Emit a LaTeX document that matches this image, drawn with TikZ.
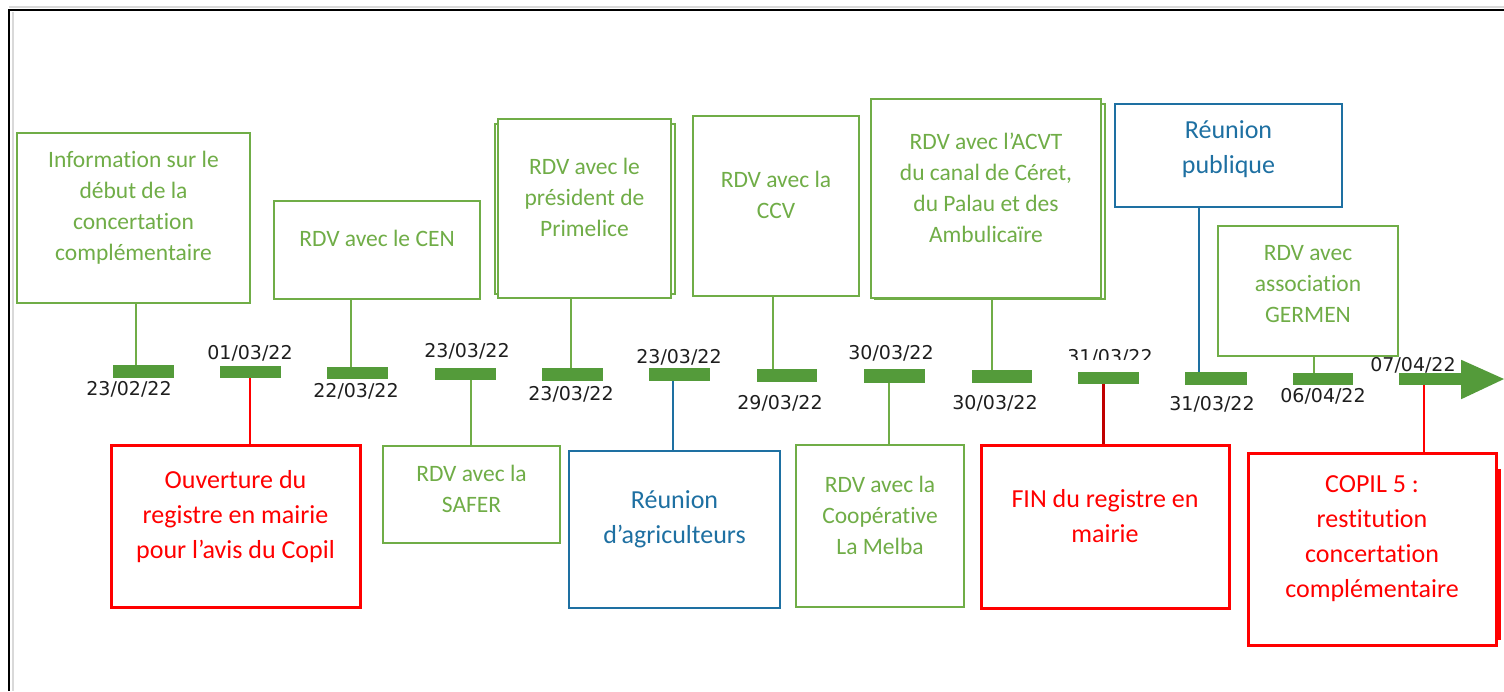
\documentclass[tikz,border=0pt]{standalone}
\usepackage{fontspec}
\setmainfont{Carlito}[Ligatures=CommonOff]
\newfontfamily\datefont{DejaVu Sans}
\usetikzlibrary{calc}
\definecolor{evgreen}{RGB}{112,173,71}
\definecolor{mkgreen}{RGB}{84,155,58}
\definecolor{evblue}{RGB}{30,112,162}
\definecolor{evred}{RGB}{255,0,0}
\definecolor{evdarkred}{RGB}{192,0,0}
\definecolor{datecol}{RGB}{30,30,30}
\tikzset{
  boxbase/.style={draw, fill=white, line width=2.5pt, inner sep=0pt, anchor=center},
  gbox/.style={boxbase, draw=evgreen},
  bbox/.style={boxbase, draw=evblue},
  rbox/.style={boxbase, draw=evred, line width=3pt},
  txtbase/.style={align=center, inner sep=0pt},
  gtxt/.style={txtbase, text=evgreen, font=\fontsize{23.5}{31}\selectfont},
  btxt/.style={txtbase, text=evblue, font=\fontsize{26}{35}\selectfont},
  rtxt/.style={txtbase, text=evred, font=\fontsize{26}{35}\selectfont},
  backbox/.style={line width=2.5pt},
  marker/.style={fill=mkgreen, draw=none, inner sep=0pt},
  datelbl/.style={font=\datefont\fontsize{19}{21}\selectfont, text=datecol, inner sep=0pt},
  gline/.style={draw=evgreen, line width=1.5pt},
  bline/.style={draw=evblue, line width=1.8pt},
  rline/.style={draw=evred, line width=1.3pt},
  drline/.style={draw=evdarkred, line width=3pt},
}
\newcommand\evbox[8]{%
  \node[#2box, minimum width={(#5-#3)*1pt}, minimum height={(#6-#4)*1pt}] (#1) at ({(#3+#5)/2},{(#4+#6)/2}) {};
  \node[#2txt] (#1t) at ({(#3+#5)/2},#7) {#8};
}
\newcommand\evmark[5]{%
  \node[marker, minimum width={(#4-#2)*1pt}, minimum height={(#5-#3)*1pt}] (#1) at ({(#2+#4)/2},{(#3+#5)/2}) {};
}
\begin{document}
\begin{tikzpicture}[x=1pt,y=-1pt]
\useasboundingbox (0,0) rectangle (1504,691);
% frame
\draw[black!15, line width=1.5pt] (13,12) -- (13,691);
\draw[black!15, line width=1.5pt] (9,7) -- (1504,7);
\draw[black, line width=2.2pt] (9,691) -- (9,10) -- (1504,10);

% back boxes (doubled outlines)
\draw[backbox, draw=evgreen] (495,124) rectangle (675,294);
\draw[backbox, draw=evgreen] (875,104) rectangle (1105,299);
\draw[backbox, draw=evred, line width=3pt] (1252,470) rectangle (1499,638);

% upper boxes
\evbox{info}{g}{17}{133}{250}{303}{207.5}{Information sur le\\début de la\\concertation\\complémentaire}
\evbox{cen}{g}{274}{201}{480}{299}{238}{RDV avec le CEN}
\evbox{prim}{g}{498}{119}{671}{298}{197.5}{RDV avec le\\président de\\Primelice}
\evbox{ccv}{g}{693}{116}{859}{296}{195}{RDV avec la\\CCV}
\evbox{acvt}{g}{871}{99}{1101}{298}{187.5}{RDV avec l’ACVT\\du canal de Céret,\\du Palau et des\\Ambulicaïre}
\evbox{pub}{b}{1115}{104}{1342}{207}{149.5}{Réunion\\publique}
\evbox{germ}{g}{1218}{226}{1398}{356}{284.5}{RDV avec\\association\\GERMEN}

% lower boxes
\evbox{ouv}{r}{111}{445}{360}{607}{517}{Ouverture du\\registre en mairie\\pour l’avis du Copil}
\evbox{safer}{g}{383}{446}{560}{543}{488.5}{RDV avec la\\SAFER}
\evbox{agri}{b}{569}{451}{780}{608}{519.5}{Réunion\\d’agriculteurs}
\evbox{melba}{g}{796}{445}{964}{607}{515.5}{RDV avec la\\Coopérative\\La Melba}
\evbox{fin}{r}{981}{445}{1229}{608}{516.5}{FIN du registre en\\mairie}
\evbox{copil}{r}{1248}{453}{1496}{645}{539}{COPIL 5 :\\restitution\\concertation\\complémentaire}

% markers
\evmark{m1}{113}{365}{174}{378}
\evmark{m2}{220}{366}{281}{378}
\evmark{m3}{327}{367}{388}{379}
\evmark{m4}{435}{368}{496}{380}
\evmark{m5}{542}{368}{603}{381}
\evmark{m6}{649}{368}{710}{381}
\evmark{m7}{757}{369}{817}{382}
\evmark{m8}{864}{369}{925}{383}
\evmark{m9}{972}{370}{1032}{383}
\evmark{m10}{1078}{372}{1139}{384}
\evmark{m11}{1185}{372}{1247}{385}
\evmark{m12}{1293}{373}{1353}{385}
\evmark{m13}{1399}{373}{1461}{385}
\fill[mkgreen] (m13.north east) -- ++(0,-13) -- (1504,379) -- ($(m13.south east)+(0,14)$) -- (m13.south east) -- cycle;

% date labels
\node[datelbl] (d1) at (129,389) {23/02/22};
\node[datelbl] (d2) at (250,353) {01/03/22};
\node[datelbl] (d3) at (356,391) {22/03/22};
\node[datelbl] (d4) at (467,351) {23/03/22};
\node[datelbl] (d5) at (571,394) {23/03/22};
\node[datelbl] (d6) at (679,357) {23/03/22};
\node[datelbl] (d7) at (780,403) {29/03/22};
\node[datelbl] (d8) at (891,353) {30/03/22};
\node[datelbl] (d9) at (995,403) {30/03/22};
\begin{scope}
\clip (1050,330) rectangle (1170,359.5);
\node[datelbl] (d10) at (1110,357.5) {31/03/22};
\end{scope}
\node[datelbl] (d11) at (1212,404) {31/03/22};
\node[datelbl] (d12) at (1323,396) {06/04/22};
\node[datelbl] (d13) at (1413,365) {07/04/22};

% connector x positions
\coordinate (x1) at (136,0);
\coordinate (x2) at (250,0);
\coordinate (x3) at (351,0);
\coordinate (x4) at (471,0);
\coordinate (x5) at (571,0);
\coordinate (x6) at (673,0);
\coordinate (x7) at (773,0);
\coordinate (x8) at (889,0);
\coordinate (x9) at (992,0);
\coordinate (x10) at (1103,0);
\coordinate (x11) at (1199,0);
\coordinate (x12) at (1314,0);
\coordinate (x13) at (1424,0);

% connectors above
\draw[gline] (info.south -| x1) -- (m1.north -| x1);
\draw[gline] (cen.south -| x3) -- (m3.north -| x3);
\draw[gline] (prim.south -| x5) -- (m5.north -| x5);
\draw[gline] (ccv.south -| x7) -- (m7.north -| x7);
\draw[gline] (acvt.south -| x9) -- (m9.north -| x9);
\draw[bline] (pub.south -| x11) -- (m11.north -| x11);
\draw[gline] (germ.south -| x12) -- (m12.north -| x12);
% connectors below
\draw[rline] (m2.south -| x2) -- (ouv.north -| x2);
\draw[gline] (m4.south -| x4) -- (safer.north -| x4);
\draw[bline] (m6.south -| x6) -- (agri.north -| x6);
\draw[gline] (m8.south -| x8) -- (melba.north -| x8);
\draw[drline] (m10.south -| x10) -- (fin.north -| x10);
\draw[rline] (m13.south -| x13) -- (copil.north -| x13);
\end{tikzpicture}
\end{document}
